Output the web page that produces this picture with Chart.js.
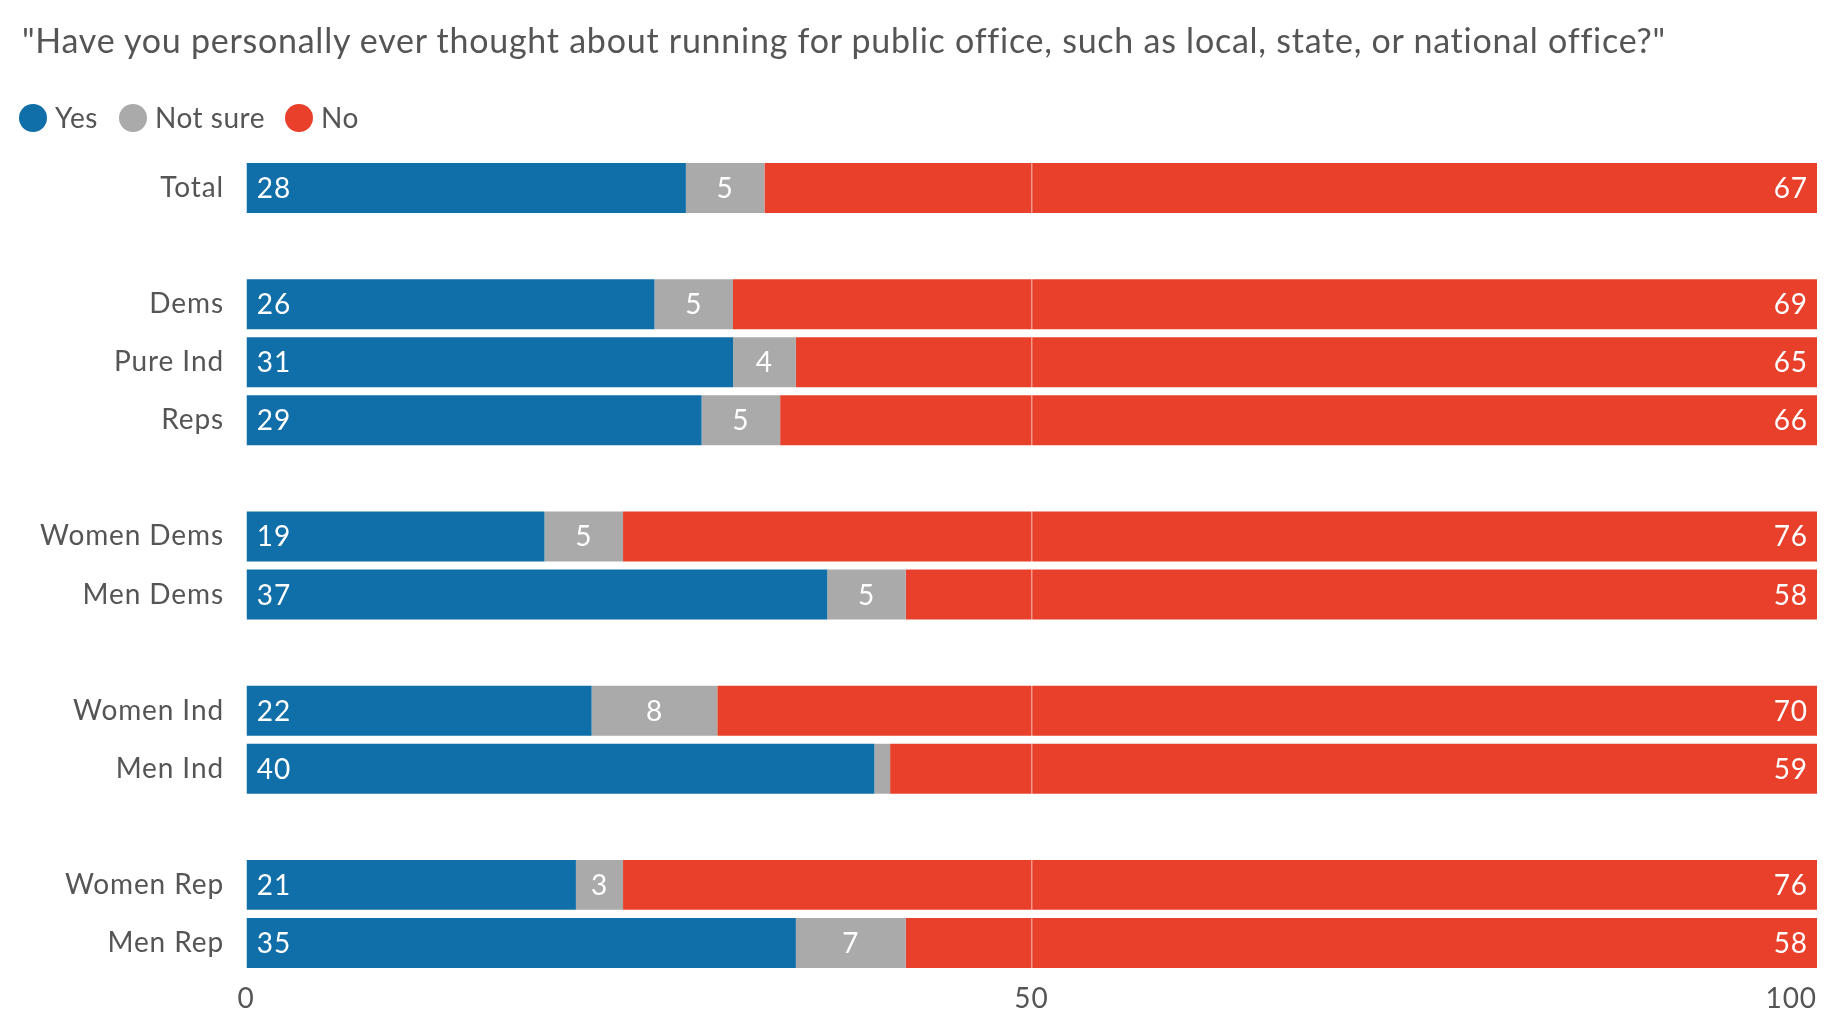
<!DOCTYPE html>
<html>
<head>
<meta charset="utf-8">
<script src="https://cdn.jsdelivr.net/npm/chart.js@4.4.1/dist/chart.umd.min.js"></script>
<style>
  body { margin: 0; background: #fff; font-family: Lato, sans-serif; color: #555; }
  #wrap { position: relative; width: 1840px; height: 1030px; overflow: hidden; }
  #title { position: absolute; left: 22px; top: 23px; font-size: 34px; line-height: 34px; letter-spacing: 0.75px; white-space: nowrap; }
  .dot { position: absolute; top: 104px; width: 28px; height: 28px; border-radius: 50%; }
  .lbl { position: absolute; top: 103px; font-size: 28px; line-height: 28px; letter-spacing: 0.5px; white-space: nowrap; }
  canvas { position: absolute; left: 0; top: 0; }
</style>
</head>
<body>
<div id="wrap">
  <canvas id="myChart" width="1840" height="1030"></canvas>
  <div id="title">"Have you personally ever thought about running for public office, such as local, state, or national office?"</div>
  <div class="dot" style="left:19px;background:#106ea8"></div><div class="lbl" style="left:55px">Yes</div>
  <div class="dot" style="left:119px;background:#aaaaaa"></div><div class="lbl" style="left:155px">Not sure</div>
  <div class="dot" style="left:285px;background:#e8402a"></div><div class="lbl" style="left:321px">No</div>
</div>
<script>
// rows, with blank rows between the groups
var categories = ['Total', '', 'Dems', 'Pure Ind', 'Reps', '', 'Women Dems', 'Men Dems', '', 'Women Ind', 'Men Ind', '', 'Women Rep', 'Men Rep'];
var yesValues     = [28, null, 26, 31, 29, null, 19, 37, null, 22, 40, null, 21, 35];
var notSureValues = [5,  null, 5,  4,  5,  null, 5,  5,  null, 8,  1,  null, 3,  7];
var noValues      = [67, null, 69, 65, 66, null, 76, 58, null, 70, 59, null, 76, 58];
var xTicks = [0, 50, 100];

var textColor = '#555';
var fontFamily = 'Lato, sans-serif';

// a little wider text, closer to the original typeface
var spacing = {
    id: 'spacing',
    beforeDraw: function(chart) { chart.ctx.letterSpacing = '0.9px'; }
};

// value labels inside the bars
var barLabels = {
    id: 'barLabels',
    afterDatasetsDraw: function(chart) {
        var ctx = chart.ctx;
        ctx.save();
        ctx.font = '28px ' + fontFamily;
        ctx.fillStyle = '#fff';
        ctx.textBaseline = 'middle';
        chart.data.datasets.forEach(function(ds, di) {
            var meta = chart.getDatasetMeta(di);
            meta.data.forEach(function(bar, i) {
                var v = ds.data[i];
                if (v == null) return;
                var left = Math.min(bar.x, bar.base), right = Math.max(bar.x, bar.base);
                if (di === 0) {
                    ctx.textAlign = 'left';
                    ctx.fillText(v, left + 10, bar.y + 1);
                } else if (di === 1) {
                    if (v < 2) return;
                    ctx.textAlign = 'center';
                    ctx.fillText(v, (left + right) / 2, bar.y + 1);
                } else {
                    ctx.textAlign = 'right';
                    ctx.fillText(v, right - 9, bar.y + 1);
                }
            });
        });
        ctx.restore();
    }
};

// x tick labels: last one kept inside the plot
var xLabels = {
    id: 'xLabels',
    afterDraw: function(chart) {
        var ctx = chart.ctx, sx = chart.scales.x;
        ctx.save();
        ctx.font = '28px ' + fontFamily;
        ctx.fillStyle = textColor;
        ctx.textBaseline = 'middle';
        xTicks.forEach(function(t, i) {
            ctx.textAlign = i === xTicks.length - 1 ? 'right' : 'center';
            ctx.fillText(t, sx.getPixelForValue(t), chart.chartArea.bottom + 27);
        });
        ctx.restore();
    }
};

var ctx = document.getElementById('myChart').getContext('2d');

var myChart = new Chart(ctx, {
    type: 'bar',
    data: {
        labels: categories,
        datasets: [
            { label: 'Yes', data: yesValues, backgroundColor: '#106ea8' },
            { label: 'Not sure', data: notSureValues, backgroundColor: '#aaaaaa' },
            { label: 'No', data: noValues, backgroundColor: '#e8402a' }
        ]
    },
    options: {
        indexAxis: 'y',
        responsive: false,
        animation: false,
        devicePixelRatio: 1,
        categoryPercentage: 1,
        barPercentage: 0.86,
        layout: { padding: { top: 159, right: 23, left: 0, bottom: 0 } },
        plugins: {
            legend: { display: false },
            tooltip: { enabled: false }
        },
        scales: {
            x: {
                stacked: true,
                min: 0,
                max: 100,
                ticks: { stepSize: 50, display: false },
                border: { display: false },
                grid: {
                    z: 1,
                    drawTicks: false,
                    lineWidth: 1.5,
                    color: function(c) {
                        return c.tick && c.tick.value === 50 ? 'rgba(255,255,255,0.45)' : 'rgba(0,0,0,0)';
                    }
                },
                afterFit: function(scale) { scale.height = 58; }
            },
            y: {
                stacked: true,
                border: { display: false },
                grid: { display: false, drawTicks: false },
                ticks: {
                    autoSkip: false,
                    padding: 22,
                    color: textColor,
                    font: { family: fontFamily, size: 28 }
                },
                afterFit: function(scale) { scale.width = 246; }
            }
        }
    },
    plugins: [spacing, barLabels, xLabels]
});
</script>
</body>
</html>
